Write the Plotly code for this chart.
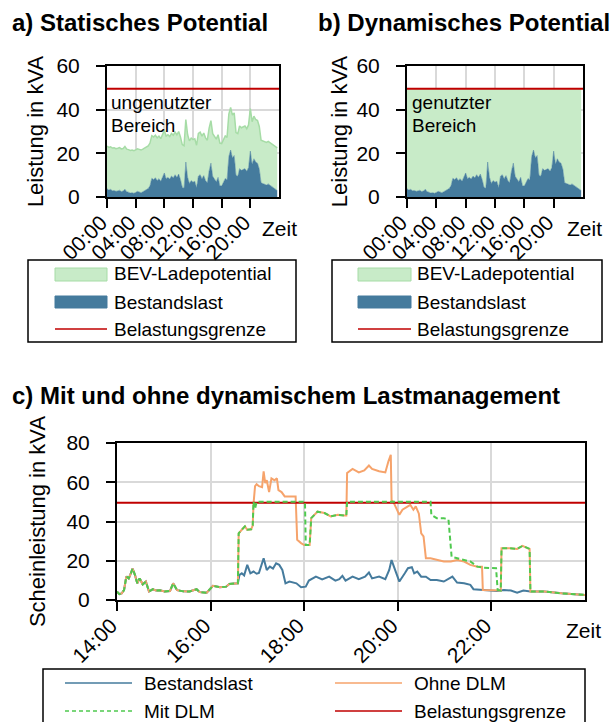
import numpy as np
import plotly.graph_objects as go

W, H = 613, 722
FONT = "Liberation Sans, Arial, sans-serif"

# ---------------- data ----------------
LIMIT_KVA = 49.6            # Belastungsgrenze
STATIC_POTENTIAL_KVA = 19.5 # statisches BEV-Ladepotential

# Bestandslast eines Tages, 15-min-Werte ab 00:00 (kVA)
DAY_LOAD = [
    3.8, 3.2, 3.5, 2.9,   3.0, 2.6, 2.8, 3.1,   2.5, 2.7, 3.6, 2.4,
    2.2, 1.8, 2.0, 1.7,   2.1, 2.6, 2.3, 2.0,   2.4, 2.8, 3.3, 3.9,
    5.2, 8.6, 8.0, 8.8,   7.6, 8.4, 7.2, 8.9,   11.0, 8.4, 9.0, 8.2,
    9.6, 8.8, 10.2, 9.0,  10.5, 8.0, 4.5, 4.0,  16.0, 9.0, 6.2, 7.5,
    6.8, 7.2, 4.2, 9.6,   10.2, 8.4, 9.8, 7.6,  6.5, 12.0, 15.5, 9.5,
    8.4, 7.0, 9.0, 5.2,   5.0, 6.5, 8.5, 7.8,   18.5, 21.5, 18.0, 19.0,
    10.0, 9.5, 13.0, 12.2, 12.5, 13.0, 11.8, 13.5, 21.0, 15.0, 17.5, 16.0,
    15.5, 12.8, 6.5, 6.2, 5.8, 5.5, 6.0, 5.4,   5.0, 4.6, 3.8, 3.0,
]
DAY_TICKS = ["00:00", "04:00", "08:00", "12:00", "16:00", "20:00"]

# Abendausschnitt 14:00-24:00
EVE_TICKS = ["14:00", "16:00", "18:00", "20:00", "22:00"]
CHARGE_START = "16:36"

BASE_T = ["14:00", "14:03", "14:06", "14:09", "14:12", "14:15", "14:17", "14:20",
          "14:23", "14:26", "14:29", "14:33", "14:37", "14:41", "14:46", "14:50",
          "14:55", "15:01", "15:08", "15:12", "15:17", "15:25", "15:33", "15:42",
          "15:46", "15:55", "16:03", "16:12", "16:20", "16:24", "16:35", "16:37",
          "16:40", "16:43", "16:47", "16:51", "16:55", "16:59", "17:02", "17:08",
          "17:12", "17:16", "17:20", "17:24", "17:28", "17:32", "17:36", "17:41",
          "17:50", "17:56", "18:02", "18:06", "18:15", "18:23", "18:32", "18:40",
          "18:45", "18:49", "18:53", "19:02", "19:10", "19:18", "19:23", "19:27",
          "19:36", "19:44", "19:49", "19:52", "19:55", "19:58", "20:02", "20:09",
          "20:13", "20:18", "20:21", "20:25", "20:30", "20:36", "20:42", "20:50",
          "20:59", "21:10", "21:16", "21:25", "21:33", "21:37", "21:50", "22:07",
          "22:16", "22:25", "22:33", "22:41", "22:50", "23:08", "23:30", "24:00"]
BASE_V = [4.3, 3.0, 3.4, 5.0, 12.0, 11.0, 12.8, 16.0,
          12.8, 8.5, 11.0, 8.0, 9.4, 4.3, 5.5, 4.8,
          5.0, 4.3, 4.6, 8.5, 5.0, 4.4, 4.3, 5.5,
          4.0, 3.7, 7.2, 6.5, 6.8, 8.2, 8.5, 12.8,
          13.6, 12.5, 17.9, 13.6, 14.5, 13.4, 13.8, 21.3,
          15.3, 17.0, 16.0, 18.7, 17.9, 15.3, 8.5, 9.4,
          8.5, 6.5, 6.8, 9.9, 11.9, 10.5, 11.9, 9.9,
          10.6, 12.3, 9.9, 11.9, 10.6, 11.9, 14.0, 11.0,
          11.9, 10.6, 15.3, 20.4, 17.0, 13.6, 9.4, 13.6,
          16.2, 16.7, 13.6, 14.5, 11.9, 11.9, 10.2, 10.2,
          9.4, 11.9, 8.9, 8.5, 7.7, 5.5, 5.1, 4.6,
          5.1, 4.8, 3.7, 4.8, 4.3, 4.3, 3.4, 2.6]

# Gesamtlast ohne DLM ab Ladebeginn
OHNE_T = ["16:36", "16:40", "16:44", "16:47", "16:52", "16:54", "16:55", "16:57",
          "16:59", "17:02", "17:06", "17:08", "17:10", "17:12", "17:15", "17:18",
          "17:22", "17:25", "17:27", "17:31", "17:35", "17:49", "17:51", "17:56",
          "18:00", "18:07", "18:09", "18:17", "18:26", "18:34", "18:43", "18:52",
          "18:54", "18:55", "19:02", "19:10", "19:17", "19:23", "19:27", "19:36",
          "19:44", "19:48", "19:51", "19:52", "19:55", "19:58", "20:02", "20:06",
          "20:12", "20:16", "20:20", "20:23", "20:27", "20:30", "20:33", "20:36",
          "20:42", "20:50", "20:59", "21:08", "21:16", "21:25", "21:33", "21:42",
          "21:48", "21:49", "22:00", "22:12", "22:13", "22:24", "22:33", "22:40",
          "22:46", "22:49", "22:50", "23:08", "23:30", "24:00"]
OHNE_V = [34.0, 35.8, 37.5, 35.8, 36.0, 38.0, 49.0, 58.0,
          59.0, 58.0, 57.5, 65.6, 59.6, 61.0, 55.0, 62.0,
          61.0, 62.0, 56.0, 55.0, 52.8, 52.8, 30.7, 29.0,
          28.0, 28.0, 41.7, 45.0, 44.3, 42.6, 43.4, 43.0,
          43.0, 64.7, 66.8, 65.0, 66.0, 68.5, 66.8, 65.6,
          65.0, 70.7, 74.0, 51.0, 49.4, 46.8, 43.4, 46.0,
          47.7, 48.5, 46.0, 47.7, 44.0, 34.0, 32.4, 21.3,
          21.3, 20.4, 19.6, 19.6, 20.4, 19.6, 17.9, 17.0,
          17.0, 5.1, 5.1, 4.8, 26.4, 26.4, 26.0, 27.6,
          26.4, 26.0, 4.3, 4.3, 3.4, 2.6]

# Gesamtlast mit DLM ab Ladebeginn
MIT_T = ["16:36", "16:40", "16:44", "16:47", "16:52", "16:54", "16:55", "16:57",
         "16:59", "18:01", "18:02", "18:07", "18:09", "18:17", "18:26", "18:34",
         "18:43", "18:52", "18:54", "18:55", "20:42", "20:43", "20:50", "20:59",
         "21:05", "21:09", "21:16", "21:25", "21:33", "21:42", "21:50", "22:06",
         "22:08", "22:12", "22:13", "22:24", "22:33", "22:40", "22:46", "22:49",
         "22:50", "23:08", "23:30", "24:00"]
MIT_V = [34.0, 35.8, 37.5, 35.8, 36.0, 38.0, 50.0, 46.5,
         50.0, 50.0, 28.0, 28.0, 41.7, 45.0, 44.3, 42.6,
         43.4, 43.0, 43.0, 50.0, 50.0, 43.4, 41.7, 41.7,
         40.9, 22.0, 21.3, 20.4, 19.6, 17.0, 16.5, 16.2,
         5.1, 4.8, 26.4, 26.4, 26.0, 27.6, 26.4, 26.0,
         4.3, 4.3, 3.4, 2.6]

# ---------------- colours ----------------
C_BLUE = "#457b9d"
C_GREEN_FILL = "#c8ebc8"
C_GREEN_EDGE = "#a6dca6"
C_RED = "#c00000"
C_ORANGE = "#f6a36b"
C_GREEN_DASH = "#4fc94f"
C_GRID = "#d9d9d9"


def hours(t):
    h, m = t.split(":")
    return int(h) + int(m) / 60.0


def px(x):
    return x / W


def py(y):
    return 1 - y / H


day_x = np.arange(len(DAY_LOAD)) * 0.25
day_load = np.array(DAY_LOAD)

base_x = [hours(t) for t in BASE_T]
start = hours(CHARGE_START)
pre_x = [x for x in base_x if x < start]
pre_v = [v for x, v in zip(base_x, BASE_V) if x < start]
ohne_x = pre_x + [hours(t) for t in OHNE_T]
ohne_v = pre_v + OHNE_V
mit_x = pre_x + [hours(t) for t in MIT_T]
mit_v = pre_v + MIT_V

fig = go.Figure()

# --- panel a: statisches Potential ---
fig.add_trace(go.Scatter(x=day_x, y=day_load, stackgroup="a", mode="lines",
                         line=dict(color=C_BLUE, width=0.5), fillcolor=C_BLUE,
                         name="Bestandslast", showlegend=False, xaxis="x", yaxis="y"))
fig.add_trace(go.Scatter(x=day_x, y=np.full(len(day_x), STATIC_POTENTIAL_KVA),
                         stackgroup="a", mode="lines",
                         line=dict(color=C_GREEN_EDGE, width=1.5), fillcolor=C_GREEN_FILL,
                         name="BEV-Ladepotential", showlegend=False, xaxis="x", yaxis="y"))
fig.add_trace(go.Scatter(x=[0, 24], y=[LIMIT_KVA, LIMIT_KVA], mode="lines",
                         line=dict(color=C_RED, width=2), name="Belastungsgrenze",
                         showlegend=False, xaxis="x", yaxis="y"))

# --- panel b: dynamisches Potential ---
fig.add_trace(go.Scatter(x=day_x, y=day_load, stackgroup="b", mode="lines",
                         line=dict(color=C_BLUE, width=0.5), fillcolor=C_BLUE,
                         name="Bestandslast", showlegend=False, xaxis="x2", yaxis="y2"))
fig.add_trace(go.Scatter(x=day_x, y=LIMIT_KVA - day_load, stackgroup="b", mode="lines",
                         line=dict(color=C_GREEN_FILL, width=0), fillcolor=C_GREEN_FILL,
                         name="BEV-Ladepotential", showlegend=False, xaxis="x2", yaxis="y2"))
fig.add_trace(go.Scatter(x=[0, 24], y=[LIMIT_KVA, LIMIT_KVA], mode="lines",
                         line=dict(color=C_RED, width=2), name="Belastungsgrenze",
                         showlegend=False, xaxis="x2", yaxis="y2"))

# --- panel c: mit und ohne DLM ---
fig.add_trace(go.Scatter(x=base_x, y=BASE_V, mode="lines", line=dict(color=C_BLUE, width=2),
                         name="Bestandslast", showlegend=False, xaxis="x3", yaxis="y3"))
fig.add_trace(go.Scatter(x=ohne_x, y=ohne_v, mode="lines", line=dict(color=C_ORANGE, width=2),
                         name="Ohne DLM", showlegend=False, xaxis="x3", yaxis="y3"))
fig.add_trace(go.Scatter(x=[14, 24], y=[LIMIT_KVA, LIMIT_KVA], mode="lines",
                         line=dict(color=C_RED, width=2), name="Belastungsgrenze",
                         showlegend=False, xaxis="x3", yaxis="y3"))
fig.add_trace(go.Scatter(x=mit_x, y=mit_v, mode="lines",
                         line=dict(color=C_GREEN_DASH, width=2, dash="5px,3px"),
                         name="Mit DLM", showlegend=False, xaxis="x3", yaxis="y3"))

tickfont = dict(family=FONT, size=21, color="black")
axis_common = dict(showline=True, linecolor="black", linewidth=2, mirror=True,
                   ticks="outside", ticklen=9, tickwidth=2, tickcolor="black",
                   showgrid=True, gridcolor=C_GRID, gridwidth=2, zeroline=False,
                   tickfont=tickfont, automargin=False)
xlabels = dict(tickangle=-45, ticklabelshift=-6, ticklabelstandoff=-6)
ytitle_font = dict(family=FONT, size=22, color="black")

day_tickvals = [hours(t) for t in DAY_TICKS]
eve_tickvals = [hours(t) for t in EVE_TICKS]

fig.update_layout(
    width=W, height=H, margin=dict(l=0, r=0, t=0, b=0, autoexpand=False),
    paper_bgcolor="white", plot_bgcolor="white",
    font=dict(family=FONT, size=20, color="black"),
    xaxis=dict(domain=[px(107), px(279)], range=[0, 24], tickvals=day_tickvals,
               ticktext=DAY_TICKS, anchor="y", **xlabels, **axis_common),
    yaxis=dict(domain=[py(197), py(66)], range=[0, 60], tickvals=[0, 20, 40, 60],
               anchor="x", ticklabelstandoff=12,
               title=dict(text="Leistung in kVA", font=ytitle_font, standoff=7),
               **axis_common),
    xaxis2=dict(domain=[px(407), px(583)], range=[0, 24], tickvals=day_tickvals,
                ticktext=DAY_TICKS, anchor="y2", **xlabels, **axis_common),
    yaxis2=dict(domain=[py(197), py(66)], range=[0, 60], tickvals=[0, 20, 40, 60],
                anchor="x2", ticklabelstandoff=12,
                title=dict(text="Leistung in kVA", font=ytitle_font, standoff=3),
                **axis_common),
    xaxis3=dict(domain=[px(117), px(585)], range=[14, 24], tickvals=eve_tickvals,
                ticktext=EVE_TICKS, anchor="y3", **xlabels, **axis_common),
    yaxis3=dict(domain=[py(600), py(443)], range=[0, 80], tickvals=[0, 20, 40, 60, 80],
                anchor="x3", ticklabelstandoff=12,
                title=dict(text="Scheinleistung in kVA", font=ytitle_font, standoff=15),
                **axis_common),
)

annotations = []
shapes = []


def text(x, y, s, size=20, bold=False, xanchor="left"):
    annotations.append(dict(xref="paper", yref="paper", x=px(x), y=py(y),
                            text=f"<b>{s}</b>" if bold else s,
                            showarrow=False, xanchor=xanchor, yanchor="middle",
                            font=dict(family=FONT, size=size, color="black")))


# Titel
text(10, 22, "a) Statisches Potential", size=24, bold=True)
text(316, 22, "b) Dynamisches Potential", size=24, bold=True)
text(10, 395, "c) Mit und ohne dynamischem Lastmanagement", size=24, bold=True)

# Achsbeschriftung Zeit
text(260, 228, "Zeit", size=21)
text(565, 228, "Zeit", size=21)
text(564, 630, "Zeit", size=21)

# Bereichsbeschriftungen
text(109, 103, "ungenutzter", size=19)
text(109, 125, "Bereich", size=19)
text(410, 103, "genutzter", size=19)
text(410, 125, "Bereich", size=19)


def rect(x0, y0, x1, y1, fill="rgba(0,0,0,0)", line="black", lw=1.5):
    shapes.append(dict(type="rect", xref="paper", yref="paper", x0=px(x0), x1=px(x1),
                       y0=py(y1), y1=py(y0), fillcolor=fill, line=dict(color=line, width=lw)))


def hline(x0, x1, y, color, lw=2, dash="solid"):
    shapes.append(dict(type="line", xref="paper", yref="paper", x0=px(x0), x1=px(x1),
                       y0=py(y), y1=py(y), line=dict(color=color, width=lw, dash=dash)))


# Legenden a und b
for bx0, bx1, sx0, sx1, tx in [(28, 296, 55, 107, 112), (332, 602, 358, 411, 415)]:
    rect(bx0, 260, bx1, 342, lw=1.5)
    rect(sx0, 268, sx1, 281, fill=C_GREEN_FILL, line=C_GREEN_EDGE, lw=1)
    rect(sx0, 296, sx1, 308, fill=C_BLUE, line=C_BLUE, lw=1)
    hline(sx0, sx1, 329, C_RED, lw=1.5)
    text(tx, 274, "BEV-Ladepotential", size=19)
    text(tx, 302, "Bestandslast", size=19)
    text(tx, 329, "Belastungsgrenze", size=19)

# Legende c
rect(43, 669, 585, 760, lw=1.5)
hline(65, 132, 683, C_BLUE, lw=1.5)
text(142, 683, "Bestandslast", size=19)
hline(65, 132, 711, C_GREEN_DASH, lw=1.5, dash="4px,3px")
text(142, 711, "Mit DLM", size=19)
hline(335, 402, 683, C_ORANGE, lw=1.5)
text(412, 683, "Ohne DLM", size=19)
hline(335, 402, 711, C_RED, lw=1.5)
text(412, 711, "Belastungsgrenze", size=19)

fig.update_layout(annotations=annotations, shapes=shapes)
fig.write_html("out.html")
